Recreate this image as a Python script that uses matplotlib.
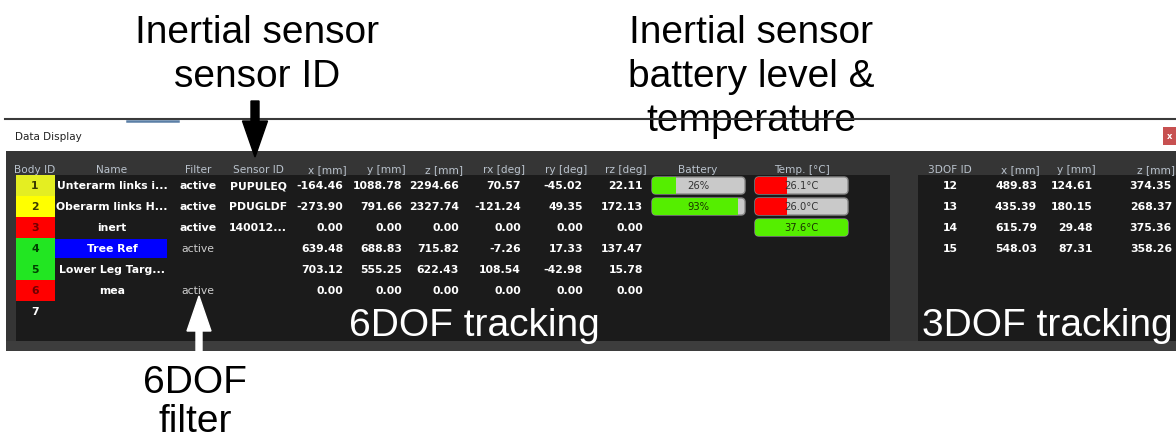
import matplotlib
matplotlib.use("Agg")
import matplotlib.pyplot as plt
from matplotlib.patches import Rectangle, FancyBboxPatch, FancyArrow

# ---------------- data ----------------
body_ids = [1, 2, 3, 4, 5, 6, 7]
body_colors = ["#e4ee22", "#ffff00", "#ff0000", "#22e622", "#22e622", "#ff0000", None]
body_text_colors = ["#3a3a00", "#3a3a00", "#700000", "#004000", "#004000", "#700000", "#ffffff"]
names = ["Unterarm links i...", "Oberarm links H...", "inert", "Tree Ref",
         "Lower Leg Targ...", "mea", ""]
filters = ["active", "active", "active", "active", "", "active", ""]
sensor_ids = ["PUPULEQ", "PDUGLDF", "140012...", "", "", "", ""]
x_mm = [-164.46, -273.90, 0.00, 639.48, 703.12, 0.00]
y_mm = [1088.78, 791.66, 0.00, 688.83, 555.25, 0.00]
z_mm = [2294.66, 2327.74, 0.00, 715.82, 622.43, 0.00]
rx_deg = [70.57, -121.24, 0.00, -7.26, 108.54, 0.00]
ry_deg = [-45.02, 49.35, 0.00, 17.33, -42.98, 0.00]
rz_deg = [22.11, 172.13, 0.00, 137.47, 15.78, 0.00]
battery_pct = [26, 93]
temps_c = [26.1, 26.0, 37.6]
TEMP_MIN, TEMP_MAX, TEMP_OK = 20.0, 37.6, 30.0

dof3_ids = [12, 13, 14, 15]
dof3_x = [489.83, 435.39, 615.79, 548.03]
dof3_y = [124.61, 180.15, 29.48, 87.31]
dof3_z = [374.35, 268.37, 375.36, 358.26]

headers6 = ["Body ID", "Name", "Filter", "Sensor ID", "x [mm]", "y [mm]", "z [mm]",
            "rx [deg]", "ry [deg]", "rz [deg]", "Battery", "Temp. [°C]"]
headers3 = ["3DOF ID", "x [mm]", "y [mm]", "z [mm]"]

# ---------------- figure ----------------
W, H = 1176, 439
fig = plt.figure(figsize=(W / 100, H / 100), dpi=100)
ax = fig.add_axes([0, 0, 1, 1])
ax.set_xlim(0, W)
ax.set_ylim(H, 0)
ax.axis("off")

PANEL = "#353535"
INNER = "#1b1b1b"
HEAD = "#b9c2cc"
BIG = "Liberation Sans"

# window frame
ax.add_patch(Rectangle((5, 121), W, 31, facecolor="white", edgecolor="none"))
ax.add_patch(Rectangle((6, 152), W, 200, facecolor=PANEL, edgecolor="none"))
ax.add_patch(Rectangle((6, 342), W, 10, facecolor="#3d3d3d", edgecolor="none"))
ax.add_patch(Rectangle((16, 176), 874, 166, facecolor=INNER, edgecolor="none"))
ax.add_patch(Rectangle((918, 176), W - 918, 166, facecolor=INNER, edgecolor="none"))
ax.text(15, 137, "Data Display", fontsize=7.5, color="#222222", va="center", ha="left")
ax.add_patch(Rectangle((1163, 128), 20, 18, facecolor="#c75050", edgecolor="none"))
ax.text(1170, 137, "x", fontsize=6, color="white", va="center", ha="center", fontweight="bold")

# column geometry
row0, rh = 186.5, 21.0
rows = [row0 + i * rh for i in range(len(body_ids))]
num_right = [343, 402, 459, 521, 583, 643]
head_pos = [(35, "center"), (112, "center"), (198, "center"), (258, "center")] + \
           [(r + 4, "right") for r in num_right] + [(698, "center"), (802, "center")]
for (hx, ha), h in zip(head_pos, headers6):
    ax.text(hx, 170, h, fontsize=7.6, color=HEAD, ha=ha, va="center")

FS = 7.8
for i, bid in enumerate(body_ids):
    y = rows[i]
    if body_colors[i]:
        ax.add_patch(Rectangle((16, y - rh / 2), 39, rh, facecolor=body_colors[i], edgecolor="none"))
    ax.text(35, y, str(bid), fontsize=FS, fontweight="bold", color=body_text_colors[i],
            ha="center", va="center")
    if names[i] == "Tree Ref":
        ax.add_patch(Rectangle((55, y - rh / 2 + 1), 112, rh - 2, facecolor="#0000ff", edgecolor="none"))
    if names[i]:
        ax.text(112, y, names[i], fontsize=FS, fontweight="bold", color="white", ha="center", va="center")
    if filters[i]:
        strong = bool(sensor_ids[i])
        ax.text(198, y, filters[i], fontsize=FS, fontweight="bold" if strong else "normal",
                color="white" if strong else "#cfcfcf", ha="center", va="center")
    if sensor_ids[i]:
        ax.text(258, y, sensor_ids[i], fontsize=FS, fontweight="bold", color="white", ha="center", va="center")
    if i < len(x_mm):
        for col, xr in zip([x_mm, y_mm, z_mm, rx_deg, ry_deg, rz_deg], num_right):
            ax.text(xr, y, f"{col[i]:.2f}", fontsize=FS, fontweight="bold", color="white",
                    ha="right", va="center")

# progress bars
def bar(x0, y, frac, color, label, tcolor):
    w, h = 93, 17
    box = FancyBboxPatch((x0, y - h / 2), w, h, boxstyle="round,pad=0,rounding_size=4",
                         facecolor="#c9c9c9", edgecolor="#8a8a8a", lw=1.0)
    ax.add_patch(box)
    fill = Rectangle((x0, y - h / 2), w * max(0, min(1, frac)), h, facecolor=color, edgecolor="none")
    ax.add_patch(fill)
    fill.set_clip_path(box)
    ax.text(x0 + w / 2, y, label, fontsize=7.2, color=tcolor, ha="center", va="center")

for i, b in enumerate(battery_pct):
    bar(652, rows[i], b / 100, "#55ee00", f"{b}%", "#333333" if b < 50 else "#1a3300")
for i, t in enumerate(temps_c):
    frac = (t - TEMP_MIN) / (TEMP_MAX - TEMP_MIN)
    ok = t >= TEMP_OK
    bar(755, rows[i], frac, "#55ee00" if ok else "#ff0000", f"{t:.1f}°C", "#1a3300" if ok else "#333333")

# 3DOF panel
right3 = [1037, 1093, 1172]
ax.text(950, 170, headers3[0], fontsize=7.6, color=HEAD, ha="center", va="center")
for h, xr in zip(headers3[1:], right3):
    ax.text(xr + 3, 170, h, fontsize=7.6, color=HEAD, ha="right", va="center")
for i, did in enumerate(dof3_ids):
    y = rows[i]
    ax.text(950, y, str(did), fontsize=FS, fontweight="bold", color="white", ha="center", va="center")
    for col, xr in zip([dof3_x, dof3_y, dof3_z], right3):
        ax.text(xr, y, f"{col[i]:.2f}", fontsize=FS, fontweight="bold", color="white",
                ha="right", va="center")

# big labels inside panel
ax.text(474, 336, "6DOF tracking", family=BIG, fontsize=28, color="white", ha="center", va="baseline")
ax.text(922, 336, "3DOF tracking", family=BIG, fontsize=28, color="white", ha="left", va="baseline")

# annotations
for txt, yb in [("Inertial sensor", 43), ("sensor ID", 87)]:
    ax.text(257, yb, txt, family=BIG, fontsize=28, color="black", ha="center", va="baseline")
for txt, yb in [("Inertial sensor", 43), ("battery level &", 87), ("temperature", 131)]:
    ax.text(751, yb, txt, family=BIG, fontsize=28, color="black", ha="center", va="baseline")
for txt, yb in [("6DOF", 393), ("filter", 432)]:
    ax.text(195, yb, txt, family=BIG, fontsize=28, color="black", ha="center", va="baseline")

ax.plot([5, W], [120, 120], color="#3a3a3a", lw=1.5, zorder=5)
ax.plot([127, 178], [121.8, 121.8], color="#5b7fa6", lw=1.8, zorder=5)

ax.add_patch(FancyArrow(255, 102, 0, 56, width=8, head_width=25, head_length=36,
                        length_includes_head=True, color="black", zorder=6))
ax.add_patch(FancyArrow(199, 352, 0, -55, width=6, head_width=24, head_length=35,
                        length_includes_head=True, color="white", zorder=6))

fig.savefig("out.png", dpi=100)
